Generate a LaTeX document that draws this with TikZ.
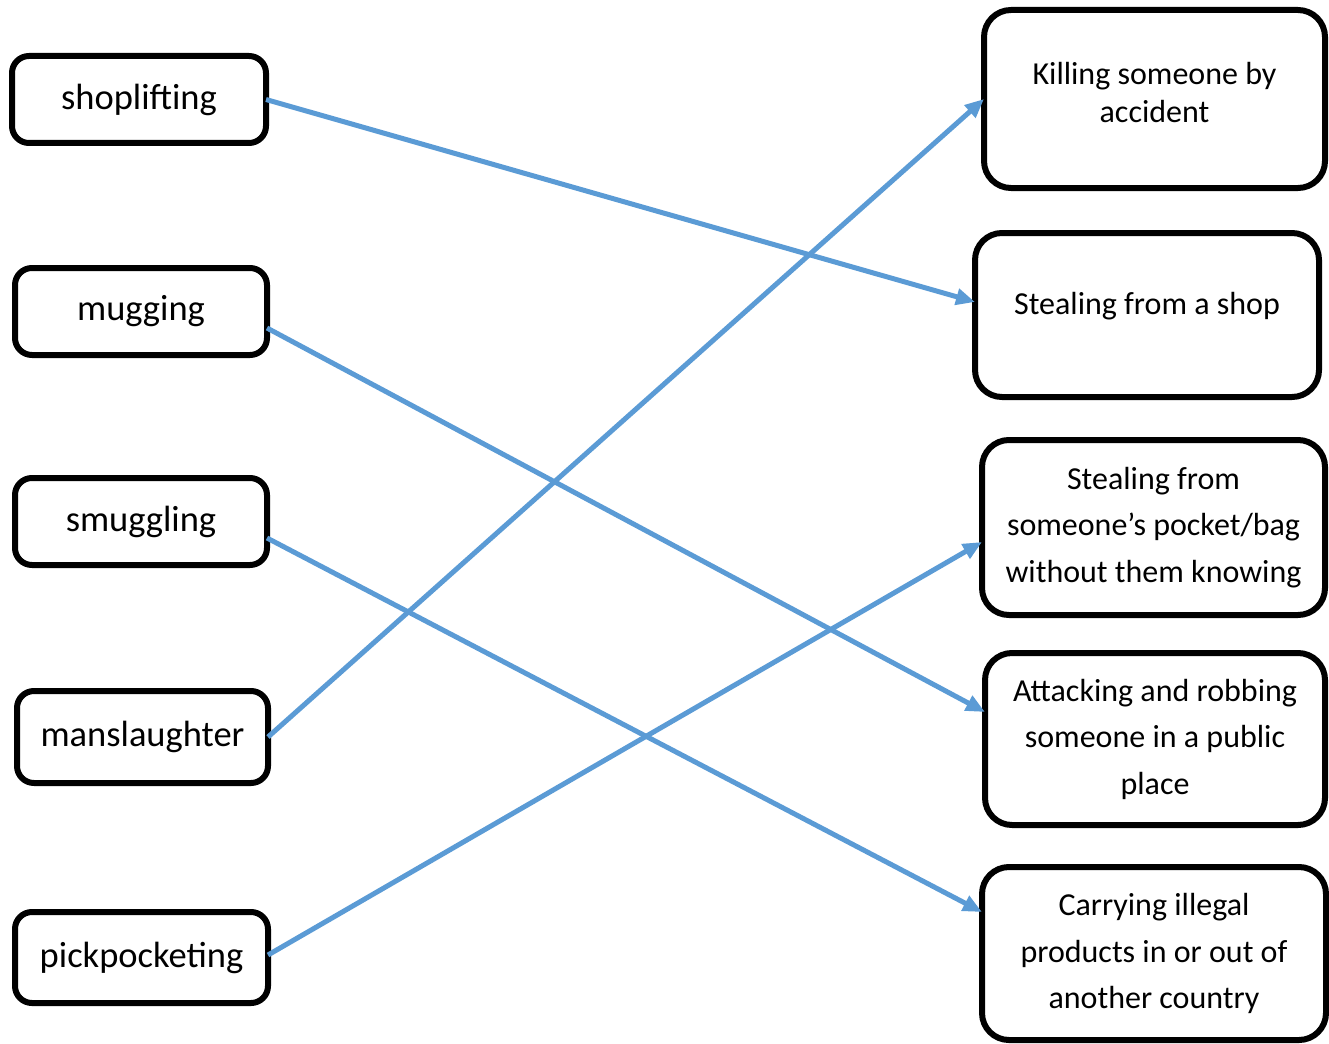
\documentclass[tikz,border=0pt]{standalone}
\usepackage{fontspec}
\setmainfont{Carlito}
\usetikzlibrary{arrows.meta,calc}

\definecolor{linkblue}{RGB}{91,155,213}

\tikzset{every picture/.style={line width=0.75pt}}
\tikzset{
  word/.style={draw=black,line width=6pt,rounded corners=17pt,inner sep=0pt,outer sep=0pt,
    font=\fontsize{36.5}{44}\selectfont},
  meaning/.style={draw=black,line width=6pt,rounded corners=27pt,inner sep=0pt,outer sep=0pt,
    align=center,font=\fontsize{32}{46.5}\selectfont},
  link/.style={draw=linkblue,line width=5pt,-{Triangle[length=19pt,width=16pt]}}
}

\begin{document}
\begin{tikzpicture}[x=1pt,y=1pt,yscale=-1,xscale=1]
	%set diagram size
	\useasboundingbox (0,0) rectangle (1329,1043);

	%Words on the left
	\node [word,minimum width=254pt,minimum height=87pt] (shoplifting) at (139,99.5) {shoplifting};
	\node [word,minimum width=252pt,minimum height=87pt] (mugging) at (141,311.5) {mugging};
	\node [word,minimum width=252pt,minimum height=87pt] (smuggling) at (141,521.5) {smuggling};
	\node [word,minimum width=251pt,minimum height=92pt] (manslaughter) at (142.5,737) {manslaughter};
	\node [word,minimum width=253pt,minimum height=91pt] (pickpocketing) at (141.5,957.5) {pickpocketing};

	%Meanings on the right
	\node [meaning,minimum width=341pt,minimum height=178pt,font=\fontsize{32}{38}\selectfont,text height=55pt,text depth=7pt] (killing) at (1154.5,99) {Killing someone by\\accident};
	\node [meaning,minimum width=344pt,minimum height=164pt,text height=22pt,text depth=24pt] (shop) at (1147,315) {Stealing from a shop};
	\node [meaning,minimum width=343pt,minimum height=175pt] (pocket) at (1153.5,527.5) {Stealing from\\someone’s pocket/bag\\without them knowing};
	\node [meaning,minimum width=340pt,minimum height=172pt] (attacking) at (1155,739) {Attacking and robbing\\someone in a public\\place};
	\node [meaning,minimum width=344pt,minimum height=173pt] (carrying) at (1154,953.5) {Carrying illegal\\products in or out of\\another country};

	%Arrows
	\draw [link] (shoplifting.east) -- ($(shop.west)+(0,-13)$);
	\draw [link] ($(mugging.east)+(0,16.5)$) -- ($(attacking.west)+(0,-27)$);
	\draw [link] ($(smuggling.east)+(0,16.5)$) -- ($(carrying.west)+(0,-41.5)$);
	\draw [link] (manslaughter.east) -- (killing.west);
	\draw [link] ($(pickpocketing.east)+(0,-2.5)$) -- ($(pocket.west)+(0,14.5)$);

\end{tikzpicture}
\end{document}
